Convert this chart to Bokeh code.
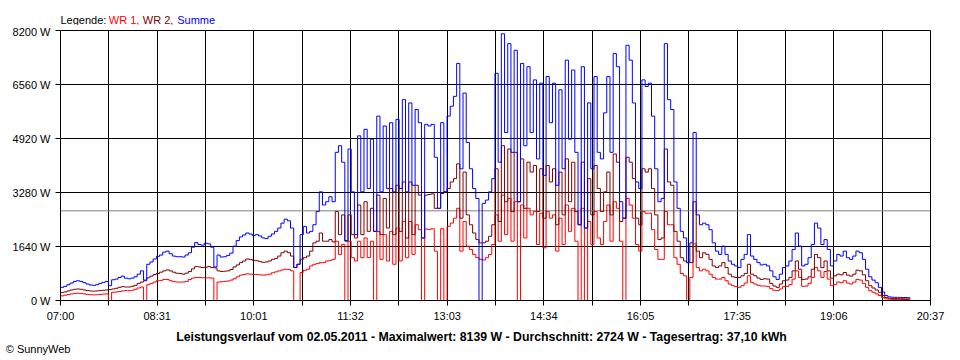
from bokeh.plotting import figure
from bokeh.models import Range1d, FixedTicker, Span
from bokeh.layouts import column
from bokeh.core.properties import value
from bokeh.embed import file_html
from bokeh.resources import INLINE

# ---- data (one reading every 3 minutes from 07:00) ----
STEP_MIN = 3
DAY_MINUTES = 817  # 07:00 .. 20:37

summe = [
    400, 430, 480, 530, 580, 600, 580, 540, 500, 470, 460, 480, 520, 550, 580, 450,
    630, 650, 700, 740, 680, 660, 680, 720, 800, 900, 620, 1100, 1170, 1260, 1340,
    1380, 1470, 1500, 1420, 1350, 1330, 1330, 1320, 1380, 1450, 1620, 1760, 1700, 1680, 1740,
    1720, 1620, 1020, 1380, 1320, 1330, 1370, 1440, 1650, 1820, 1930, 1990, 2050, 2020, 1970,
    2000, 1960, 1900, 1880, 1950, 2020, 2100, 2200, 2350, 2470, 2420, 2200, 1000, 1100, 2000,
    2250, 2050, 2100, 2300, 2700, 3300, 2900, 3000, 3150, 3000, 4500, 4700, 4200, 1820, 4600,
    3300, 2000, 5000, 3300, 5200, 3400, 4900, 2100, 5600, 3300, 5300, 3400, 5400, 3300, 5500, 3400,
    6100, 3300, 6000, 3500, 5800, 5400,
    1900, 5350, 5300, 5350, 4350, 2800, 5400, 3300, 5600, 5900,
    6200, 7200, 4000, 6300, 4800, 4000, 3400, 3100, 0, 2950, 3050, 3300, 3700,
    6900, 4200, 8100, 5100, 7800, 4500, 7600, 3000, 7200, 4700, 7100,
    5100, 6700, 4300, 6600, 3800, 6800, 5400, 6600, 3500, 6400, 4000, 7300, 4900, 7000, 4500, 2300, 7100, 2200, 6000, 4000, 6800, 4500, 4300,
    5700, 6800, 4500, 7500, 7100, 3000, 2500, 7750, 7300, 6000, 3600, 3400,
    6700, 6500, 6600, 5600, 4000, 3000, 3100, 7800, 6100, 5800, 3600, 2800,
    2100, 1900, 1150, 1750, 5100, 2600, 2300, 2350, 2300, 2150, 1750, 1500,
    1400, 1650, 1400, 1200, 1100, 1050, 1000, 1250, 1400, 2000, 1350, 1250, 1150,
    1080, 1100, 1050, 900, 720, 640, 800, 1000, 1050, 1200, 1550, 2050,
    1650, 1050, 1100, 1300, 1700, 2350, 2200, 1700, 1850, 1550, 1050, 1200,
    1400, 1350, 1500, 1300, 1250, 1350, 1500, 1450, 1250, 950, 720, 620,
    540, 400, 260, 150, 110, 100, 95, 95, 90, 90, 85, 85,
]

wr2 = [
    240, 260, 290, 320, 340, 350, 340, 320, 300, 290, 285, 290, 300, 310, 320, 330,
    350, 370, 400, 420, 410, 410, 430, 460, 520, 560, 600, 690, 740, 790, 820,
    860, 900, 930, 900, 860, 830, 820, 800, 830, 880, 960, 1030, 1020, 1000, 1010,
    1030, 1000, 990, 900, 880, 890, 900, 940, 1020, 1080, 1150, 1200, 1260, 1250, 1220,
    1210, 1180, 1160, 1170, 1200, 1250, 1280, 1350, 1450, 1500, 1450, 1350, 1000, 1100, 1250,
    1300, 1350, 1500, 1750, 1800, 2050, 1800, 1800, 1850, 1780, 2700, 2000, 2600, 1800, 2600,
    2000, 1900, 2900, 2000, 3000, 2100, 2800, 2100, 3200, 2000, 3100, 2200, 3400, 2000, 3500, 2100,
    3600, 1900, 3600, 2000, 3500, 3200,
    1900, 3200, 3220, 3240, 2800, 2800, 3250, 3300, 3400, 3600,
    3700, 4150, 2500, 3900, 2600, 2300, 2050, 1850, 1750, 1750, 1800, 1950, 2300,
    4000, 2400, 4700, 3000, 4600, 2700, 4500, 3000, 4300, 2800, 4200,
    3900, 4100, 2700, 4000, 2500, 4100, 3600, 4000, 2300, 3900, 2600, 4300, 3000, 4200, 2700, 2300, 4200, 2200, 3700, 2600, 4100, 3400, 2700,
    3300, 3900, 2600, 4450, 4200, 2400, 2500, 4350, 4200, 3700, 2500, 2300,
    4000, 3900, 4000, 3400, 2600, 1850, 1900, 4600, 3600, 3500, 2100, 1800,
    1300, 1200, 1150, 1150, 3000, 1500, 1300, 1450, 1400, 1250, 1050, 1000,
    1050, 1150, 1000, 800, 720, 700, 700, 750, 820, 1100, 800, 750, 680,
    640, 660, 650, 520, 440, 400, 500, 600, 620, 700, 900, 1200,
    950, 640, 650, 720, 950, 1400, 1300, 1000, 1200, 900, 680, 750,
    800, 780, 850, 770, 740, 800, 920, 900, 780, 600, 450, 380,
    320, 250, 150, 90, 70, 60, 60, 55, 55, 50, 50, 50,
]

wr1 = [
    140, 160, 180, 200, 215, 220, 215, 200, 185, 175, 170, 175, 185, 195, 200, 0,
    250, 260, 270, 290, 300, 300, 310, 340, 380, 410, 0, 480, 520, 560, 600,
    610, 640, 640, 600, 570, 560, 560, 560, 580, 640, 680, 700, 700, 690, 690,
    690, 680, 0, 560, 570, 580, 590, 620, 660, 720, 770, 790, 810, 800, 790,
    790, 780, 770, 780, 800, 840, 870, 900, 930, 950, 940, 900, 0, 0, 850,
    920, 950, 1050, 1100, 1120, 1150, 1150, 1200, 1220, 1250, 1800, 1400, 1700, 0, 1800,
    1300, 1200, 1800, 1300, 1900, 1300, 1800, 0, 2100, 1250, 2000, 1200, 2100, 1100, 2200, 1200,
    2400, 1300, 2400, 1400, 2300, 2150,
    0, 2170, 2160, 2180, 1500, 0, 2180, 0, 2250, 2350,
    2500, 2800, 1500, 2400, 1650, 1550, 1400, 1300, 1250, 1230, 1300, 1400, 1700,
    2600, 1800, 3200, 2000, 3100, 1800, 3000, 0, 2900, 1900, 2800,
    2600, 2700, 1700, 2650, 1600, 2700, 2500, 2600, 1500, 2500, 1700, 2900, 2100, 2800, 1800, 0, 2800, 0, 2400, 1700, 2700, 1900, 1700,
    2400, 2900, 1800, 3000, 2800, 1800, 0, 3100, 2900, 2500, 1700, 1500,
    2700, 2650, 2650, 2150, 1550, 1250, 1250, 2700, 2300, 2300, 1300, 1100,
    820, 750, 0, 700, 1720, 1000, 900, 950, 900, 800, 700, 650,
    650, 700, 600, 500, 450, 420, 400, 450, 530, 750, 550, 500, 460,
    440, 440, 430, 360, 310, 300, 350, 420, 430, 480, 650, 900,
    700, 430, 440, 520, 700, 1000, 900, 700, 880, 650, 450, 480,
    560, 540, 600, 530, 500, 560, 640, 620, 520, 400, 300, 250,
    200, 150, 90, 50, 40, 35, 30, 30, 30, 30, 25, 25,
]

average_w = 2724
y_ticks = [0, 1640, 3280, 4920, 6560, 8200]
x_tick_labels = ["07:00", "", "08:31", "", "10:01", "", "11:32", "", "13:03", "",
                 "14:34", "", "16:05", "", "17:35", "", "19:06", "", "20:37"]

legend_texts = ["Legende:", "WR 1,", "WR 2,", "Summe"]
footer = ("Leistungsverlauf vom 02.05.2011 - Maximalwert: 8139 W - "
          "Durchschnitt: 2724 W - Tagesertrag: 37,10 kWh")
copyright_text = "\u00a9 SunnyWeb"

FONT = "Liberation Sans"
W = 960
FRAME_L, FRAME_R = 60, 930          # page pixels of the plot frame
TOP_H, MAIN_H, BOT_H = 25, 300, 35
colors = ["#ff0000", "#800000", "#0000ff"]


def text_strip(height):
    # strip whose frame is aligned with the main frame; data units = page pixels
    f = figure(width=W, height=height, output_backend="svg", toolbar_location=None,
               x_range=Range1d(FRAME_L, FRAME_R), y_range=Range1d(0, height),
               min_border=0, min_border_left=FRAME_L, min_border_right=W - FRAME_R,
               min_border_top=0, min_border_bottom=0)
    f.xaxis.visible = False
    f.yaxis.visible = False
    f.grid.visible = False
    f.outline_line_color = None
    f.background_fill_color = "white"
    f.border_fill_color = "white"
    return f


# ---- top strip: legend ----
top = text_strip(TOP_H)
top.text(x=[60, 108.3, 142.3, 176.7], y=[5.5] * 4, text=legend_texts,
         text_color=["black"] + colors, text_font=value(FONT),
         text_font_size="11px", text_baseline="alphabetic", text_align="left")

# ---- main chart ----
t = [i * STEP_MIN for i in range(len(summe))]
n_int = len(x_tick_labels) - 1
x_ticks = [DAY_MINUTES * k / n_int for k in range(len(x_tick_labels))]

p = figure(frame_width=FRAME_R - FRAME_L, frame_height=270, output_backend="svg",
           toolbar_location=None,
           x_range=Range1d(0, DAY_MINUTES), y_range=Range1d(0, y_ticks[-1]),
           min_border_left=FRAME_L, min_border_right=W - FRAME_R,
           min_border_top=5, min_border_bottom=25)
p.background_fill_color = "white"
p.border_fill_color = "white"
p.outline_line_color = "black"
p.outline_line_width = 1
p.outline_line_alpha = 1

for ax in (p.xaxis[0], p.yaxis[0]):
    ax.axis_line_color = "black"
    ax.major_tick_line_color = "black"
    ax.minor_tick_line_color = None
    ax.major_tick_in = 0
    ax.major_tick_out = 5
    ax.major_label_text_font = FONT
    ax.major_label_text_font_size = "11px"
    ax.major_label_text_color = "black"

p.xaxis.ticker = FixedTicker(ticks=x_ticks)
p.xaxis.major_label_overrides = {tk: lb for tk, lb in zip(x_ticks, x_tick_labels)}
p.xaxis.major_label_standoff = 4
p.yaxis.ticker = FixedTicker(ticks=y_ticks)
p.yaxis.major_label_overrides = {v: f"{v} W" for v in y_ticks}
p.yaxis.major_label_standoff = 5

p.xgrid.grid_line_color = "black"
p.ygrid.grid_line_color = "black"
p.xgrid.grid_line_alpha = 1
p.ygrid.grid_line_alpha = 1
p.xgrid.grid_line_width = 1
p.ygrid.grid_line_width = 1

p.add_layout(Span(location=average_w, dimension="width", line_color="#808080",
                  line_width=1, level="underlay"))

for ys, c in zip([wr1, wr2, summe], colors):
    p.step(t, ys, mode="after", line_color=c, line_width=1)

# ---- bottom strip: footer (text glyph) + copyright (as left-axis label) ----
bot = text_strip(BOT_H)
bot.text(x=[481], y=[24], text=[footer], text_color="black", text_font=value(FONT),
         text_font_size="12.3px", text_font_style="bold",
         text_baseline="middle", text_align="center")
bot.yaxis.visible = True
cy = bot.yaxis[0]
cy.ticker = FixedTicker(ticks=[12])
cy.major_label_overrides = {12: copyright_text}
cy.axis_line_color = None
cy.major_tick_line_color = None
cy.minor_tick_line_color = None
cy.major_tick_in = 0
cy.major_tick_out = 0
cy.major_label_standoff = -10
cy.major_label_text_font = FONT
cy.major_label_text_font_size = "11px"
cy.major_label_text_color = "black"

layout = column(top, p, bot, spacing=0)
open("out.html", "w").write(file_html(layout, INLINE))
